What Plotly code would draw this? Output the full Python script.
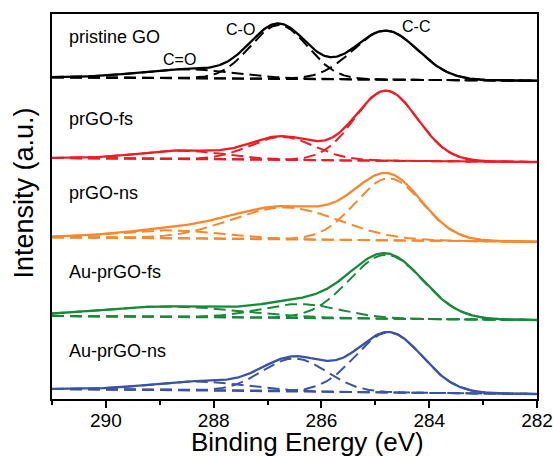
import numpy as np
import plotly.graph_objects as go

# ---- data (C1s XPS peak fits, intensity in arbitrary units) ----
samples = ["pristine GO", "prGO-fs", "prGO-ns", "Au-prGO-fs", "Au-prGO-ns"]
colors = ["#000000", "#EE1D23", "#F7882F", "#178A3A", "#3A53A4"]

# components: C=O, C-O, C-C  (centre eV, height, sigma eV)
co2_center = [288.5, 288.6, 288.8, 288.8, 288.3]
co2_height = [9.0, 8.5, 8.0, 10.5, 9.0]
co2_sigma = [0.9, 0.8, 1.0, 1.3, 0.9]

co_center = [286.79, 286.73, 286.67, 286.4, 286.5]
co_height = [53.8, 23.0, 32.0, 14.0, 33.0]
co_sigma = [0.53, 0.6, 1.0, 0.75, 0.6]

cc_center = [284.81, 284.8, 284.75, 284.8, 284.75]
cc_height = [49.0, 70.0, 62.0, 64.0, 60.0]
cc_sigma = [0.6, 0.58, 0.62, 0.68, 0.62]

# linear background: value at 291 eV and at 282 eV (includes vertical stacking offset)
bg_left = [321.7, 241.0, 161.7, 83.0, 10.0]
bg_right = [318.3, 237.0, 157.3, 79.0, 5.0]

peak_labels = ["C=O", "C-O", "C-C"]
peak_label_x = [288.64, 287.51, 284.24]
peak_label_y = [340, 370, 373]

label_x = 290.72
label_y = [362, 280.5, 205.7, 127.3, 47.7]

x_ticks = [290, 288, 286, 284, 282]

E = np.linspace(291, 282, 451)


def gauss(x, c, h, s):
    return h * np.exp(-((x - c) ** 2) / (2 * s * s))


fig = go.Figure()
for i, name in enumerate(samples):
    bg = bg_left[i] + (bg_right[i] - bg_left[i]) * (291 - E) / 9.0
    comps = [
        gauss(E, co2_center[i], co2_height[i], co2_sigma[i]),
        gauss(E, co_center[i], co_height[i], co_sigma[i]),
        gauss(E, cc_center[i], cc_height[i], cc_sigma[i]),
    ]
    fig.add_trace(go.Scatter(x=E, y=bg, mode="lines", showlegend=False,
                             line=dict(color=colors[i], width=2, dash="12px,6px")))
    for c in comps:
        fig.add_trace(go.Scatter(x=E, y=bg + c, mode="lines", showlegend=False,
                                 line=dict(color=colors[i], width=2, dash="12px,6px")))
    env = bg + sum(comps)
    fig.add_trace(go.Scatter(x=E, y=env, mode="lines", showlegend=False,
                             line=dict(color=colors[i], width=2.3)))

annotations = []
for i, name in enumerate(samples):
    annotations.append(dict(x=label_x, y=label_y[i], xref="x", yref="y", text=name,
                            showarrow=False, xanchor="left", yanchor="middle",
                            font=dict(size=18, color="black")))
for t, px, py in zip(peak_labels, peak_label_x, peak_label_y):
    annotations.append(dict(x=px, y=py, xref="x", yref="y", text=t, showarrow=False,
                            xanchor="center", yanchor="middle",
                            font=dict(size=16, color="black")))
annotations.append(dict(x=307.5, y=442, xref="paper", yref="paper", text="Binding Energy (eV)",
                        showarrow=False, xanchor="center", yanchor="middle",
                        font=dict(size=26, color="black")))
annotations.append(dict(x=23, y=193.5, xref="paper", yref="paper", text="Intensity (a.u.)",
                        showarrow=False, textangle=-90, xanchor="center", yanchor="middle",
                        font=dict(size=27, color="black")))

# convert the two title annotations from pixel positions to paper coordinates
L, R, T, B = 52, 16, 14, 57
W, H = 553, 456
pw, ph = W - L - R, H - T - B
for a in annotations[-2:]:
    a["x"] = (a["x"] - L) / pw
    a["y"] = (H - B - a["y"]) / ph

fig.update_layout(
    width=W, height=H,
    margin=dict(l=L, r=R, t=T, b=B, autoexpand=False),
    paper_bgcolor="white", plot_bgcolor="white",
    font=dict(family="Liberation Sans, Arial, sans-serif", color="black"),
    annotations=annotations,
    showlegend=False,
)
fig.update_xaxes(
    range=[291, 282], tickvals=x_ticks, ticktext=[str(v) for v in x_ticks],
    ticks="outside", ticklen=7, tickwidth=2, tickcolor="black",
    minor=dict(ticks="outside", ticklen=4, tickwidth=2, tickcolor="black", dtick=1, tick0=282),
    showline=True, linewidth=2, linecolor="black", mirror=True,
    showgrid=False, zeroline=False, tickfont=dict(size=19, color="black"),
    ticklabeloverflow="allow", automargin=False, ticklabelstandoff=-4,
)
fig.update_yaxes(
    range=[0, 385], showticklabels=False, ticks="",
    showline=True, linewidth=2, linecolor="black", mirror=True,
    showgrid=False, zeroline=False, automargin=False,
)

fig.write_html("out.html")
